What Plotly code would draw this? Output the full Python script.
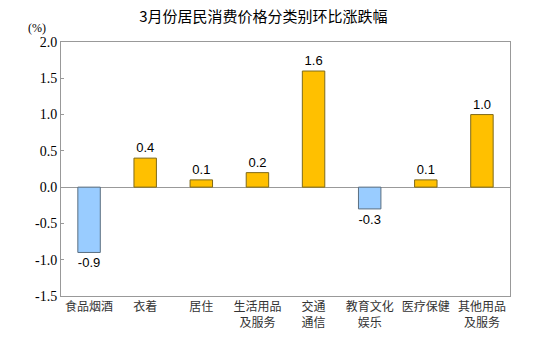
import plotly.graph_objects as go

categories = ["食品烟酒", "衣着", "居住", "生活用品<br>及服务", "交通<br>通信", "教育文化<br>娱乐", "医疗保健", "其他用品<br>及服务"]
values = [-0.9, 0.4, 0.1, 0.2, 1.6, -0.3, 0.1, 1.0]
labels = ["-0.9", "0.4", "0.1", "0.2", "1.6", "-0.3", "0.1", "1.0"]
ytick_vals = [-1.5, -1.0, -0.5, 0.0, 0.5, 1.0, 1.5, 2.0]

colors = ["#99CCFF" if v < 0 else "#FFC000" for v in values]
line_colors = ["#5A6E80" if v < 0 else "#7F6A1A" for v in values]

SERIF = "Times New Roman, Liberation Serif, DejaVu Serif, serif"

fig = go.Figure(go.Bar(
    x=list(range(len(categories))), y=values, width=0.4,
    marker=dict(color=colors, line=dict(color=line_colors, width=1)),
    text=labels, textposition="outside",
    textfont=dict(family="Arial, Liberation Sans", size=13, color="#000"),
    cliponaxis=False,
))

fig.update_layout(
    width=542, height=364,
    margin=dict(l=61, r=32, t=42, b=68, autoexpand=False),
    paper_bgcolor="white", plot_bgcolor="white",
    showlegend=False,
    title=dict(text="3月份居民消费价格分类别环比涨跌幅", x=0.486, xanchor="center", y=0.953, yanchor="middle",
               font=dict(family="Noto Sans CJK SC", size=15, color="#000")),
    annotations=[dict(text="(%)", xref="paper", yref="paper", x=-0.03, y=1.057, xanchor="right",
                      yanchor="middle", showarrow=False,
                      font=dict(family=SERIF, size=12, color="#000"))],
)
fig.update_xaxes(
    tickmode="array", tickvals=list(range(len(categories))), ticktext=categories,
    range=[-0.5, 7.5], showline=True, mirror=True, linecolor="#999", linewidth=1,
    ticks="", tickfont=dict(family="Noto Sans CJK SC", size=12, color="#333"),
    showgrid=False, zeroline=False, automargin=False,
)
fig.update_yaxes(
    range=[-1.5, 2.0], tickmode="array", tickvals=ytick_vals,
    ticktext=[f"{v:.1f}" for v in ytick_vals],
    showline=True, mirror=True, linecolor="#999", linewidth=1,
    ticks="inside", ticklen=3, tickcolor="#999",
    tickfont=dict(family=SERIF, size=14, color="#000"),
    showgrid=False, zeroline=True, zerolinecolor="#999", zerolinewidth=1, automargin=False,
)
fig.write_html("out.html", config={"displayModeBar": False},
               post_script="document.body.style.margin='0';document.body.style.overflow='hidden';")
